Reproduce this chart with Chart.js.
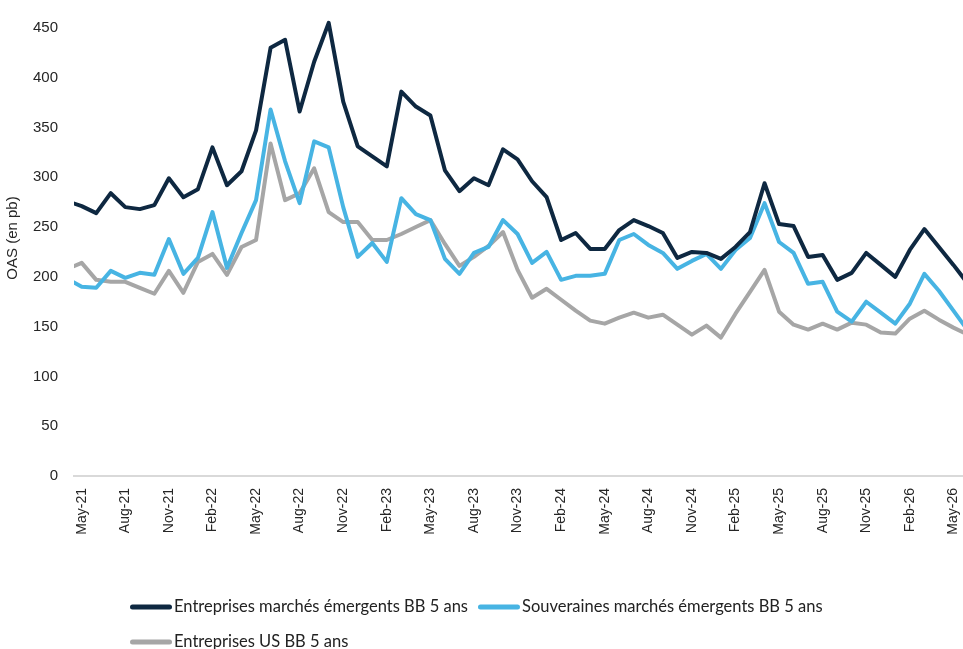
<!DOCTYPE html>
<html>
<head>
<meta charset="utf-8">
<script src="https://cdn.jsdelivr.net/npm/chart.js@4.4.1/dist/chart.umd.min.js"></script>
<style>
  html, body { margin: 0; padding: 0; background: #fff; }
  #wrap { width: 963px; height: 649px; position: relative; }
</style>
</head>
<body>
<div id="wrap"><canvas id="myChart"></canvas></div>
<script>
// monthly, Apr-21 .. Jun-26 (first and last month are cut by the plot edges)
const months = [
  'Apr-21', 'May-21', 'Jun-21', 'Jul-21', 'Aug-21', 'Sep-21', 'Oct-21', 'Nov-21', 'Dec-21',
  'Jan-22', 'Feb-22', 'Mar-22', 'Apr-22', 'May-22', 'Jun-22', 'Jul-22', 'Aug-22', 'Sep-22', 'Oct-22', 'Nov-22', 'Dec-22',
  'Jan-23', 'Feb-23', 'Mar-23', 'Apr-23', 'May-23', 'Jun-23', 'Jul-23', 'Aug-23', 'Sep-23', 'Oct-23', 'Nov-23', 'Dec-23',
  'Jan-24', 'Feb-24', 'Mar-24', 'Apr-24', 'May-24', 'Jun-24', 'Jul-24', 'Aug-24', 'Sep-24', 'Oct-24', 'Nov-24', 'Dec-24',
  'Jan-25', 'Feb-25', 'Mar-25', 'Apr-25', 'May-25', 'Jun-25', 'Jul-25', 'Aug-25', 'Sep-25', 'Oct-25', 'Nov-25', 'Dec-25',
  'Jan-26', 'Feb-26', 'Mar-26', 'Apr-26', 'May-26', 'Jun-26'
];

const emCorporates = [
  276, 271, 264, 284, 270, 268, 272, 299, 280,
  288, 330, 292, 306, 347, 430, 438, 366, 416, 455, 376, 331,
  321, 311, 386, 371, 362, 307, 286, 299, 292, 328, 318, 296,
  280, 237, 244, 228, 228, 247, 257, 251, 244, 219, 225, 224,
  218, 230, 245, 294, 253, 251, 220, 222, 197, 204, 224, 212,
  200, 227, 248, 230, 212, 193
];

const emSovereigns = [
  198, 190, 189, 206, 199, 204, 202, 238, 203,
  219, 265, 209, 244, 277, 368, 316, 274, 336, 330, 270, 220,
  234, 215, 279, 263, 257, 218, 203, 224, 230, 257, 243, 214,
  225, 197, 201, 201, 203, 237, 243, 232, 224, 208, 216, 223,
  208, 227, 239, 274, 235, 224, 193, 195, 165, 155, 175, 164,
  153, 173, 203, 186, 166, 146
];

const usCorporates = [
  208, 214, 197, 195, 195, 189, 183, 206, 184,
  215, 223, 202, 230, 237, 334, 277, 284, 309, 265, 255, 255,
  237, 237, 243, 250, 257, 233, 211, 220, 231, 245, 207, 179,
  188, 177, 166, 156, 153, 159, 164, 159, 162, 152, 142, 151,
  139, 163, 185, 207, 165, 152, 147, 153, 147, 154, 152, 144,
  143, 158, 166, 157, 149, 142
];

const seriesNames = [
  'Entreprises marchés émergents BB 5 ans',
  'Souveraines marchés émergents BB 5 ans',
  'Entreprises US BB 5 ans'
];
const seriesColors = ['#0e2841', '#47b4e3', '#a6a6a6'];

const textColor = '#262626';
const axisFont = 'Liberation Sans, Arial, sans-serif';

function toPoints(values) {
  // x = months after May-21
  return values.map((v, k) => ({ x: k - 1, y: v }));
}

function makeDataset(idx, values) {
  return {
    label: seriesNames[idx],
    data: toPoints(values),
    borderColor: seriesColors[idx],
    backgroundColor: seriesColors[idx],
    borderWidth: 4,
    borderJoinStyle: 'round',
    pointRadius: 0,
    tension: 0,
    clip: 0
  };
}

// excel-like legend: two items per row, rows left aligned
const bottomLegend = {
  id: 'bottomLegend',
  afterDraw(chart) {
    const ctx = chart.ctx;
    ctx.save();
    ctx.font = '16.5px Lato';
    ctx.textBaseline = 'middle';
    let x = 130;
    let y = 607;
    chart.data.datasets.forEach((ds, i) => {
      if (i > 0 && i % 2 === 0) {
        x = 130;
        y += 35;
      }
      ctx.strokeStyle = ds.borderColor;
      ctx.lineWidth = 5;
      ctx.lineCap = 'round';
      ctx.beginPath();
      ctx.moveTo(x + 2.5, y);
      ctx.lineTo(x + 39.5, y);
      ctx.stroke();
      ctx.fillStyle = '#222222';
      ctx.fillText(ds.label, x + 44, y);
      x += 44 + ctx.measureText(ds.label).width + 10;
    });
    ctx.restore();
  }
};

const ctx = document.getElementById('myChart');
const myChart = new Chart(ctx, {
  type: 'line',
  data: {
    datasets: [
      makeDataset(0, emCorporates),
      makeDataset(1, emSovereigns),
      makeDataset(2, usCorporates)
    ]
  },
  options: {
    animation: false,
    responsive: true,
    maintainAspectRatio: false,
    layout: { padding: { top: 0, right: 0, left: 0, bottom: 103 } },
    plugins: {
      legend: { display: false },
      tooltip: { enabled: false }
    },
    scales: {
      x: {
        type: 'linear',
        min: -0.53,
        max: 60.66,
        grid: { display: false, drawTicks: false },
        border: { display: true, color: '#d9d9d9', width: 2 },
        ticks: {
          stepSize: 3,
          includeBounds: false,
          autoSkip: false,
          maxRotation: 90,
          minRotation: 90,
          padding: 12,
          color: textColor,
          font: { family: axisFont, size: 14 },
          callback: (v) => months[Math.round(v) + 1]
        },
        afterFit(s) {
          s.height = 70;
          s.paddingLeft = 0;
          s.paddingRight = 0;
        }
      },
      y: {
        min: 0,
        max: 478,
        grid: { display: false, drawTicks: false },
        border: { display: false },
        ticks: {
          stepSize: 50,
          includeBounds: false,
          padding: 16,
          color: textColor,
          font: { family: axisFont, size: 15 }
        },
        title: {
          display: true,
          text: 'OAS (en pb)',
          color: textColor,
          font: { family: axisFont, size: 15 },
          padding: 4
        },
        afterFit(s) {
          s.width = 74;
          s.paddingTop = 0;
          s.paddingBottom = 0;
        }
      }
    }
  },
  plugins: [bottomLegend]
});
</script>
</body>
</html>
